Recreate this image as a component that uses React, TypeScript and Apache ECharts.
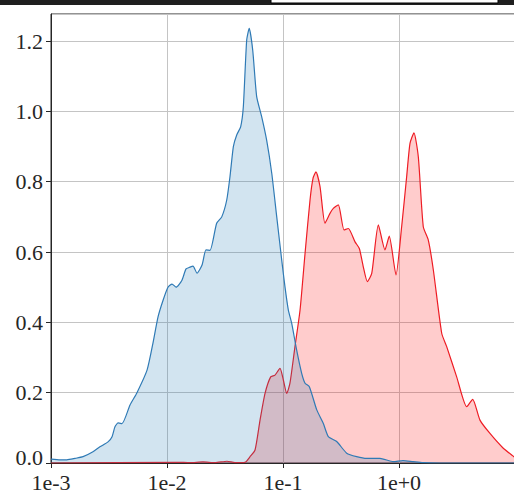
import React, { useEffect, useRef } from "react";
import * as echarts from "echarts";

// Density curves on a log-scaled x axis
const blueX = [
  0.001, 0.0012, 0.00137, 0.00161, 0.00189, 0.0023, 0.00264, 0.0031, 0.00336,
  0.00356, 0.00379, 0.00409, 0.0048, 0.00551, 0.00673, 0.00757, 0.00836,
  0.00925, 0.0102, 0.01105, 0.01197, 0.01346, 0.01459, 0.01578, 0.01675,
  0.01815, 0.02005, 0.02168, 0.0235, 0.0268, 0.02965, 0.03273, 0.0349,
  0.03733, 0.0399, 0.04315, 0.0455, 0.04864, 0.05117, 0.05483, 0.0593,
  0.06546, 0.07228, 0.07998, 0.08831, 0.0975, 0.104, 0.1112, 0.1189, 0.1312,
  0.1449, 0.1549, 0.1687, 0.1955, 0.2223, 0.246, 0.2904, 0.354, 0.4315, 0.527,
  0.6855, 0.893, 1.082, 1.32, 1.61, 2.25, 10,
];
const blueY = [
  0.011, 0.009, 0.009, 0.013, 0.018, 0.032, 0.046, 0.06, 0.075, 0.103, 0.114,
  0.112, 0.165, 0.2, 0.264, 0.341, 0.415, 0.463, 0.5, 0.509, 0.5, 0.52, 0.552,
  0.557, 0.56, 0.54, 0.563, 0.606, 0.605, 0.682, 0.7, 0.748, 0.814, 0.9,
  0.933, 0.956, 1.013, 1.203, 1.236, 1.174, 1.042, 0.985, 0.918, 0.824, 0.7,
  0.577, 0.501, 0.435, 0.397, 0.321, 0.255, 0.227, 0.217, 0.151, 0.113, 0.075,
  0.061, 0.028, 0.018, 0.013, 0.013, 0.004, 0.007, 0.004, 0.001, 0, 0,
];

const redX = [
  0.001, 0.0122, 0.01578, 0.0204, 0.02596, 0.0329, 0.0385, 0.047, 0.052,
  0.0574, 0.0634, 0.07, 0.0783, 0.0853, 0.0942, 0.1007, 0.1077, 0.1148,
  0.1268, 0.1403, 0.1549, 0.171, 0.1816, 0.1923, 0.2085, 0.2301, 0.2541,
  0.2716, 0.2999, 0.3358, 0.3656, 0.4178, 0.455, 0.4922, 0.5333, 0.582,
  0.6637, 0.7567, 0.8238, 0.9419, 1.054, 1.164, 1.244, 1.346, 1.467, 1.619,
  1.789, 1.977, 2.334, 2.577, 3.142, 3.836, 4.317, 4.989, 6.085, 7.925, 9.8,
  10,
];
const redY = [
  0, 0.002, 0.001, 0.003, 0.001, 0.005, 0.001, 0.002, 0.018, 0.037, 0.122,
  0.198, 0.245, 0.25, 0.269, 0.236, 0.198, 0.227, 0.331, 0.435, 0.596, 0.748,
  0.81, 0.828, 0.786, 0.682, 0.71, 0.724, 0.734, 0.663, 0.667, 0.629, 0.61,
  0.558, 0.516, 0.539, 0.677, 0.606, 0.645, 0.535, 0.672, 0.814, 0.909, 0.939,
  0.871, 0.672, 0.634, 0.549, 0.369, 0.331, 0.245, 0.16, 0.181, 0.122, 0.084,
  0.042, 0.018, 0.016,
];

const yTicks = ["0.0", "0.2", "0.4", "0.6", "0.8", "1.0", "1.2"];

const FONT = "'Liberation Serif', 'DejaVu Serif', serif";

function pairs(xs: number[], ys: number[]) {
  return xs.map((x, i) => [x, ys[i]]);
}

export default function App() {
  const ref = useRef<HTMLDivElement>(null);

  useEffect(() => {
    document.body.style.margin = "0";
    const chart = echarts.init(ref.current!, null, { renderer: "svg" });
    chart.setOption({
      animation: false,
      backgroundColor: "#ffffff",
      grid: {
        left: 51,
        top: 14,
        width: 464,
        height: 449,
        show: true,
        borderColor: "#262626",
        borderWidth: 1,
        containLabel: false,
        outerBoundsMode: "none",
      },
      xAxis: {
        type: "log",
        logBase: 10,
        min: 0.001,
        max: 10,
        axisLine: { show: true, lineStyle: { color: "#262626", width: 1 } },
        axisTick: { show: true, inside: false, length: 5, lineStyle: { color: "#262626" } },
        splitLine: { show: true, lineStyle: { color: "#c4c4c4", width: 1 } },
        minorTick: { show: false },
        axisLabel: {
          showMaxLabel: false,
          margin: 10,
          color: "#262626",
          fontFamily: FONT,
          fontSize: 22,
          lineHeight: 18,
          formatter: (v: number) => {
            const e = Math.round(Math.log10(v));
            return "1e" + (e >= 0 ? "+" : "") + e;
          },
        },
      },
      yAxis: {
        type: "value",
        min: 0,
        max: 1.277,
        interval: 0.2,
        axisLine: { show: true, lineStyle: { color: "#262626", width: 1 } },
        axisTick: { show: true, inside: false, length: 5, lineStyle: { color: "#262626" } },
        splitLine: { show: true, lineStyle: { color: "#c4c4c4", width: 1 } },
        axisLabel: {
          showMaxLabel: false,
          margin: 8,
          color: "#262626",
          fontFamily: FONT,
          fontSize: 22,
          lineHeight: 16,
          rich: {
            zero: {
              fontFamily: FONT,
              fontSize: 22,
              color: "#262626",
              padding: [0, 0, 12, 0],
            },
          },
          formatter: (v: number) => {
            const i = Math.round(v / 0.2);
            if (Math.abs(v - i * 0.2) > 1e-6 || !yTicks[i]) return "";
            return i === 0 ? "{zero|" + yTicks[0] + "}" : yTicks[i];
          },
        },
      },
      series: [
        {
          type: "line",
          data: pairs(redX, redY),
          showSymbol: false,
          symbol: "none",
          smooth: 0.2,
          lineStyle: { color: "#ee1c24", width: 1.2 },
          areaStyle: { color: "rgba(255,0,0,0.2)", opacity: 1, origin: "start" },
          z: 2,
        },
        {
          type: "line",
          data: pairs(blueX, blueY),
          showSymbol: false,
          symbol: "none",
          smooth: 0.2,
          lineStyle: { color: "#2f7ab5", width: 1.2 },
          areaStyle: { color: "rgba(31,119,180,0.2)", opacity: 1, origin: "start" },
          z: 3,
        },
      ],
      graphic: [
        {
          type: "rect",
          left: 0,
          top: 0,
          shape: { width: 514, height: 5 },
          style: { fill: "#1f1f1f" },
          z: 10,
        },
        {
          type: "rect",
          x: 271,
          y: -2,
          shape: { width: 227, height: 5 },
          style: { fill: "#ffffff", stroke: "#000000", lineWidth: 1 },
          z: 11,
        },
      ],
    });
    return () => chart.dispose();
  }, []);

  return (
    <div
      ref={ref}
      style={{ position: "absolute", left: 0, top: 0, width: 514, height: 494 }}
    />
  );
}
